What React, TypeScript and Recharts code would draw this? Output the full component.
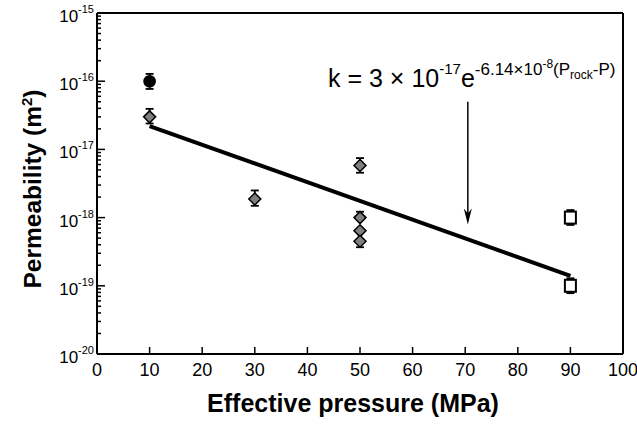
import React from "react";
import {
  ScatterChart, Scatter, XAxis, YAxis, ErrorBar, ReferenceLine
} from "recharts";

const circleX = [10];
const circleY = [1e-16];
const circleErrLo = [2.3e-17];
const circleErrHi = [2.8e-17];

const diamondX = [10, 30, 50, 50, 50, 50];
const diamondY = [3e-17, 1.87e-18, 5.8e-18, 1e-18, 6.4e-19, 4.5e-19];
const diamondErrLo = [6e-18, 3.8e-19, 1.25e-18, 0, 0, 8.2e-20];
const diamondErrHi = [9.3e-18, 6.3e-19, 1.65e-18, 2.2e-19, 0, 0];

const squareX = [90, 90];
const squareY = [1e-18, 1e-19];
const squareErrLo = [2.2e-19, 2.2e-20];
const squareErrHi = [2.9e-19, 2.9e-20];

// exponential fit line
const fitX = [10, 90];
const fitY = [2.2e-17, 1.4e-19];

// arrow pointing at the fit
const arrowX = 70.5;
const arrowFrom = 5e-17;
const arrowTo = 7.9e-19;

const xTicks = [0, 10, 20, 30, 40, 50, 60, 70, 80, 90, 100];
const decades = [-20, -19, -18, -17, -16, -15];

const yTicks: number[] = [];
decades.forEach((d) => {
  yTicks.push(Math.pow(10, d));
  if (d < -15) {
    for (let m = 2; m <= 9; m++) yTicks.push(m * Math.pow(10, d));
  }
});

const pack = (xs: number[], ys: number[], lo: number[], hi: number[]) =>
  xs.map((x, i) => ({ x, y: ys[i], err: [lo[i], hi[i]] }));

const circleData = pack(circleX, circleY, circleErrLo, circleErrHi);
const diamondData = pack(diamondX, diamondY, diamondErrLo, diamondErrHi);
const squareData = pack(squareX, squareY, squareErrLo, squareErrHi);
const fitData = fitX.map((x, i) => ({ x, y: fitY[i] }));

const FONT = "'Liberation Sans', Arial, Helvetica, sans-serif";
const NARROW = "'Liberation Sans Narrow', 'Arial Narrow', 'Liberation Sans', Arial, sans-serif";

const YTick = (props: any) => {
  const { x, y, payload } = props;
  const lg = Math.log10(payload.value);
  const exp = Math.round(lg);
  const major = Math.abs(lg - exp) < 1e-6;
  const ax = x + 3;
  return (
    <g>
      <line x1={ax} x2={ax + (major ? 8 : 4)} y1={y} y2={y} stroke="#000" strokeWidth={1.5} />
      {major && (
        <text x={x} y={y + 9} textAnchor="end" fontFamily={FONT} fontSize={17} fill="#000">
          10
          <tspan dy={-9} fontSize={11}>{exp}</tspan>
        </text>
      )}
    </g>
  );
};

const XTick = (props: any) => {
  const { x, y, payload } = props;
  return (
    <g>
      <line x1={x} x2={x} y1={y - 7} y2={y} stroke="#000" strokeWidth={1.5} />
      <text x={x} y={y + 22} textAnchor="middle" fontFamily={NARROW} fontSize={18} fill="#000">
        {payload.value}
      </text>
    </g>
  );
};

const Diamond = (p: any) => {
  const { cx, cy } = p;
  return (
    <path
      d={`M${cx},${cy - 6} L${cx + 6},${cy} L${cx},${cy + 6} L${cx - 6},${cy} Z`}
      fill="#7f7f7f" stroke="#000" strokeWidth={1.5}
    />
  );
};

const Dot = (p: any) => <circle cx={p.cx} cy={p.cy} r={6.3} fill="#000" />;

const Box = (p: any) => (
  <rect x={p.cx - 5.5} y={p.cy - 6} width={11} height={12} fill="#fff" stroke="#000" strokeWidth={2} />
);

const Nothing = () => <g />;

const Arrow = (p: any) => {
  const { x1, y1, x2, y2 } = p;
  return (
    <g>
      <line x1={x1} y1={y1} x2={x2} y2={y2 - 10} stroke="#000" strokeWidth={1.5} />
      <path d={`M${x2 - 4},${y2 - 16} L${x2},${y2} L${x2 + 4},${y2 - 16} L${x2},${y2 - 11} Z`} fill="#000" />
    </g>
  );
};

export default function App() {
  return (
    <div style={{ position: "fixed", top: 0, left: 0, width: 637, height: 425, background: "#fff" }}>
      <ScatterChart width={637} height={425} margin={{ top: 13, right: 14, bottom: 0, left: 0 }}>
        <XAxis
          type="number" dataKey="x" domain={[0, 100]} ticks={xTicks} interval={0}
          axisLine={{ stroke: "#000", strokeWidth: 2 }} tickLine={false}
          tickSize={0} tickMargin={0} height={71} tick={<XTick />}
        />
        <YAxis
          type="number" dataKey="y" scale="log" domain={[1e-20, 1e-15]} allowDataOverflow
          ticks={yTicks} interval={0} width={97}
          axisLine={{ stroke: "#000", strokeWidth: 2 }} tickLine={false}
          tickSize={0} tickMargin={3} tick={<YTick />}
        />
        <ReferenceLine y={1e-15} stroke="#000" strokeWidth={2} />
        <ReferenceLine x={100} stroke="#000" strokeWidth={2} />
        <ReferenceLine
          segment={[{ x: arrowX, y: arrowFrom }, { x: arrowX, y: arrowTo }]}
          shape={<Arrow />}
        />
        <Scatter data={fitData} line={{ stroke: "#000", strokeWidth: 4 }} shape={<Nothing />} isAnimationActive={false} />
        <Scatter data={circleData} shape={<Dot />} isAnimationActive={false}>
          <ErrorBar dataKey="err" direction="y" width={4} stroke="#000" strokeWidth={1.8} />
        </Scatter>
        <Scatter data={diamondData} shape={<Diamond />} isAnimationActive={false}>
          <ErrorBar dataKey="err" direction="y" width={4} stroke="#000" strokeWidth={1.8} />
        </Scatter>
        <Scatter data={squareData} shape={<Box />} isAnimationActive={false}>
          <ErrorBar dataKey="err" direction="y" width={4} stroke="#000" strokeWidth={1.8} />
        </Scatter>
      </ScatterChart>
      <svg width={637} height={425} style={{ position: "absolute", top: 0, left: 0, pointerEvents: "none" }}>
        <text
          x={0} y={0} transform="translate(41,189) rotate(-90)" textAnchor="middle"
          fontFamily={FONT} fontWeight="bold" fontSize={24.5} fill="#000"
        >
          Permeability (m<tspan dy={-9} fontSize={15}>2</tspan><tspan dy={9}>)</tspan>
        </text>
        <text x={353} y={412} textAnchor="middle" fontFamily={FONT} fontWeight="bold" fontSize={25} fill="#000">
          Effective pressure (MPa)
        </text>
        <text x={328} y={86.5} fontFamily={FONT} fontSize={25} fill="#000">
          k = 3 × 10
          <tspan dy={-13} fontSize={15}>-17</tspan>
          <tspan dy={13} fontSize={25}>e</tspan>
          <tspan dy={-12} fontSize={17}>-6.14×10</tspan>
          <tspan dy={-7} fontSize={12}>-8</tspan>
          <tspan dy={7} fontSize={17}>(P</tspan>
          <tspan dy={4} fontSize={12}>rock</tspan>
          <tspan dy={-4} fontSize={17}>-P)</tspan>
        </text>
      </svg>
    </div>
  );
}
